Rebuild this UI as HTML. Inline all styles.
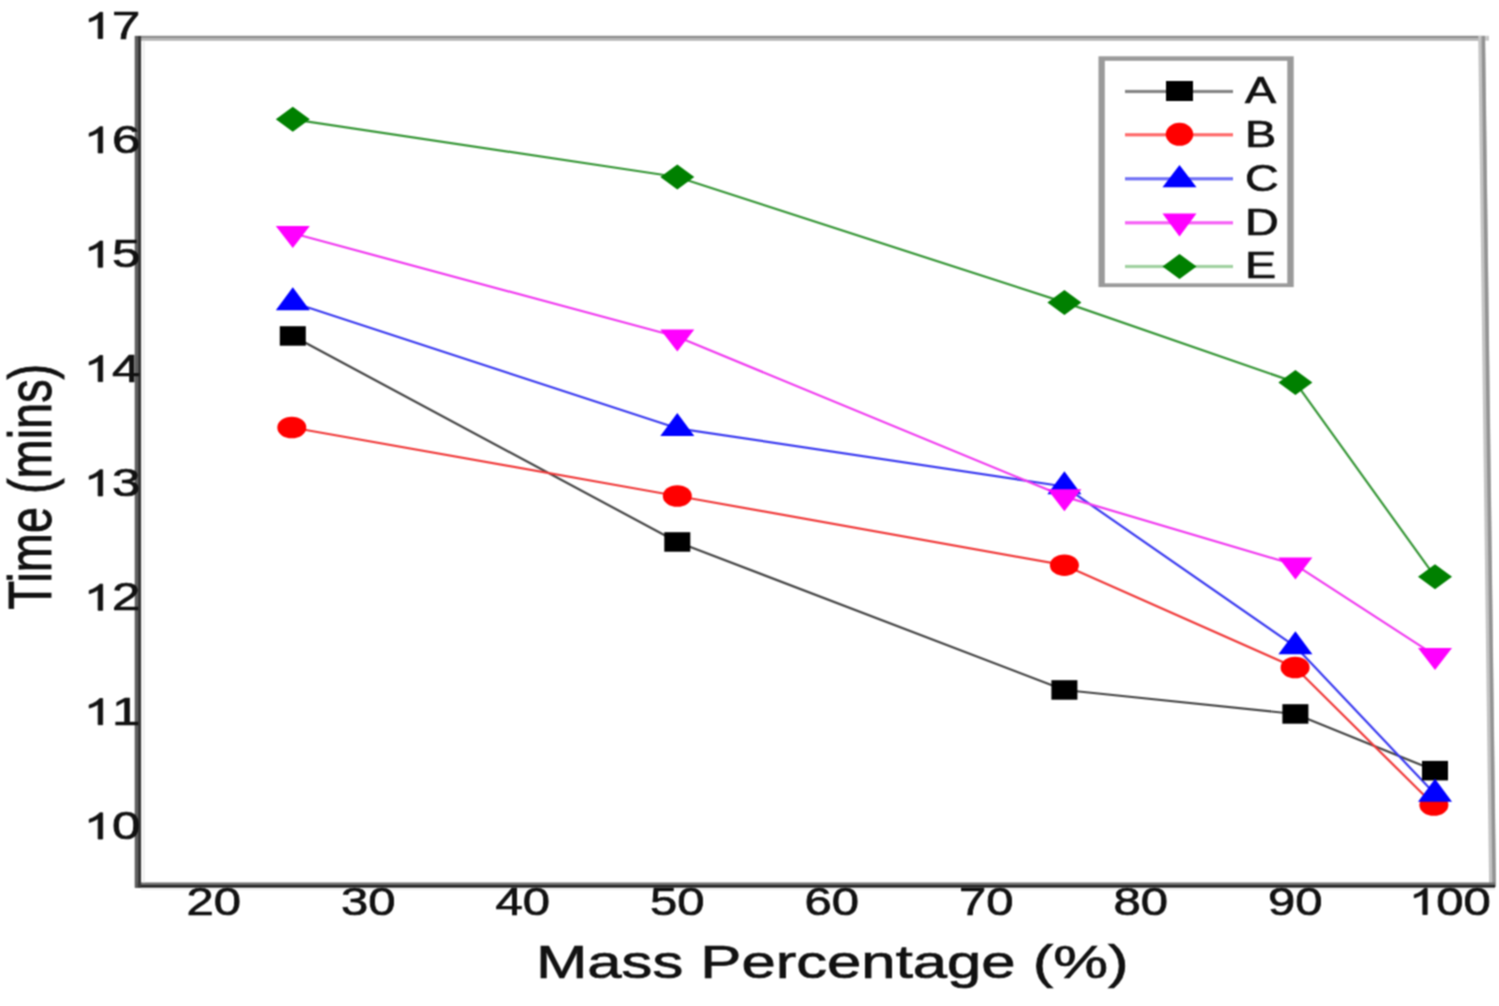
<!DOCTYPE html>
<html><head><meta charset="utf-8"><style>
html,body{margin:0;padding:0;background:#fff;}
svg{display:block;}
text{font-family:"Liberation Sans", sans-serif;fill:#111;stroke:#111;stroke-width:0.7px;}
path.g1{fill:#111;stroke:#111;stroke-width:0.7px;}
</style></head><body>
<svg width="1499" height="1006" viewBox="0 0 1499 1006">
<defs><filter id="bl" color-interpolation-filters="sRGB" x="0" y="0" width="1499" height="1006" filterUnits="userSpaceOnUse"><feConvolveMatrix order="3" kernelMatrix="1 2 1 2 4 2 1 2 1" divisor="16" edgeMode="duplicate"/></filter></defs>
<g filter="url(#bl)">
<rect width="1499" height="1006" fill="#fff"/>
<rect x="135" y="35.8" width="1350" height="2.4" fill="#8c8c8c"/>
<rect x="135" y="38.2" width="1350" height="2.5" fill="#b0b0b0"/>
<rect x="1485" y="35.8" width="4" height="4.9" fill="#c8c8c8"/>
<polygon points="1478.2,36 1485.2,36 1496.1,887 1489.1,887" fill="#c4c4c4"/>
<polygon points="1481.5,36 1485.0,36 1495.9,887 1492.4,887" fill="#939393"/>
<rect x="135" y="882.5" width="1360" height="2.6" fill="#6c6c6c"/>
<rect x="135" y="885.1" width="1360" height="2.5" fill="#1a1a1a"/>
<rect x="141" y="888.6" width="1354" height="1.4" fill="#ececec"/>
<rect x="134.7" y="36" width="3.2" height="851.6" fill="#5e5e5e"/>
<rect x="137.9" y="36" width="3.2" height="851.6" fill="#383838"/>
<rect x="143.1" y="40.7" width="1.6" height="841.8" fill="#ececec"/>
<polyline points="292.8,336.0 677.3,542.0 1064.4,690.0 1295.4,714.0 1435.0,770.6" fill="none" stroke="#454545" stroke-width="2.2" stroke-linejoin="round"/>
<polyline points="291.8,427.5 677.3,496.0 1064.4,565.2 1295.1,667.5 1433.9,805.0" fill="none" stroke="#f03a3a" stroke-width="2.2" stroke-linejoin="round"/>
<polyline points="292.8,302.5 677.3,428.3 1064.4,486.5 1295.4,646.6 1435.0,794.1" fill="none" stroke="#3a3af0" stroke-width="2.2" stroke-linejoin="round"/>
<polyline points="292.8,233.3 677.3,336.8 1064.4,496.6 1295.4,564.9 1435.0,655.3" fill="none" stroke="#f03af0" stroke-width="2.2" stroke-linejoin="round"/>
<polyline points="292.8,119.3 677.3,177.0 1064.4,302.4 1295.4,382.4 1435.0,576.7" fill="none" stroke="#369636" stroke-width="2.2" stroke-linejoin="round"/>
<rect x="279.8" y="326.2" width="26" height="19.5" fill="#000"/>
<rect x="664.3" y="532.2" width="26" height="19.5" fill="#000"/>
<rect x="1051.4" y="680.2" width="26" height="19.5" fill="#000"/>
<rect x="1282.4" y="704.2" width="26" height="19.5" fill="#000"/>
<rect x="1422.0" y="760.9" width="26" height="19.5" fill="#000"/>
<ellipse cx="291.8" cy="427.5" rx="14.5" ry="10.8" fill="#f00"/>
<ellipse cx="677.3" cy="496.0" rx="14.5" ry="10.8" fill="#f00"/>
<ellipse cx="1064.4" cy="565.2" rx="14.5" ry="10.8" fill="#f00"/>
<ellipse cx="1295.1" cy="667.5" rx="14.5" ry="10.8" fill="#f00"/>
<ellipse cx="1433.9" cy="805.0" rx="14.5" ry="10.8" fill="#f00"/>
<polygon points="292.8,287.2 309.8,310.2 275.8,310.2" fill="#00f"/>
<polygon points="677.3,413.0 694.3,436.0 660.3,436.0" fill="#00f"/>
<polygon points="1064.4,471.2 1081.4,494.2 1047.4,494.2" fill="#00f"/>
<polygon points="1295.4,631.3 1312.4,654.3 1278.4,654.3" fill="#00f"/>
<polygon points="1435.0,778.8 1452.0,801.8 1418.0,801.8" fill="#00f"/>
<polygon points="275.8,226.0 309.8,226.0 292.8,248.0" fill="#f0f"/>
<polygon points="660.3,329.5 694.3,329.5 677.3,351.5" fill="#f0f"/>
<polygon points="1047.4,489.3 1081.4,489.3 1064.4,511.3" fill="#f0f"/>
<polygon points="1278.4,557.6 1312.4,557.6 1295.4,579.6" fill="#f0f"/>
<polygon points="1418.0,648.0 1452.0,648.0 1435.0,670.0" fill="#f0f"/>
<polygon points="292.8,106.8 309.8,119.3 292.8,131.8 275.8,119.3" fill="#008000"/>
<polygon points="677.3,164.5 694.3,177.0 677.3,189.5 660.3,177.0" fill="#008000"/>
<polygon points="1064.4,289.9 1081.4,302.4 1064.4,314.9 1047.4,302.4" fill="#008000"/>
<polygon points="1295.4,369.9 1312.4,382.4 1295.4,394.9 1278.4,382.4" fill="#008000"/>
<polygon points="1435.0,564.2 1452.0,576.7 1435.0,589.2 1418.0,576.7" fill="#008000"/>
<g transform="translate(140.3,38.5) scale(1.34,1)"><text font-size="38" text-anchor="end"><tspan style="fill:none;stroke:none">1</tspan>7</text><path class="g1" d="M0.3726,0L0.2847,0L0.2847,-0.5383Q0.2529,-0.5091 0.2026,-0.4808Q0.1523,-0.4523 0.1089,-0.4369L0.1089,-0.5186Q0.1826,-0.5518 0.2368,-0.5983Q0.291,-0.6447 0.3149,-0.688L0.3726,-0.688Z" transform="translate(-42.27,0) scale(38)" style="stroke-width:0.0184px"/></g>
<g transform="translate(140.3,152.9) scale(1.34,1)"><text font-size="38" text-anchor="end"><tspan style="fill:none;stroke:none">1</tspan>6</text><path class="g1" d="M0.3726,0L0.2847,0L0.2847,-0.5383Q0.2529,-0.5091 0.2026,-0.4808Q0.1523,-0.4523 0.1089,-0.4369L0.1089,-0.5186Q0.1826,-0.5518 0.2368,-0.5983Q0.291,-0.6447 0.3149,-0.688L0.3726,-0.688Z" transform="translate(-42.27,0) scale(38)" style="stroke-width:0.0184px"/></g>
<g transform="translate(140.3,267.2) scale(1.34,1)"><text font-size="38" text-anchor="end"><tspan style="fill:none;stroke:none">1</tspan>5</text><path class="g1" d="M0.3726,0L0.2847,0L0.2847,-0.5383Q0.2529,-0.5091 0.2026,-0.4808Q0.1523,-0.4523 0.1089,-0.4369L0.1089,-0.5186Q0.1826,-0.5518 0.2368,-0.5983Q0.291,-0.6447 0.3149,-0.688L0.3726,-0.688Z" transform="translate(-42.27,0) scale(38)" style="stroke-width:0.0184px"/></g>
<g transform="translate(140.3,381.6) scale(1.34,1)"><text font-size="38" text-anchor="end"><tspan style="fill:none;stroke:none">1</tspan>4</text><path class="g1" d="M0.3726,0L0.2847,0L0.2847,-0.5383Q0.2529,-0.5091 0.2026,-0.4808Q0.1523,-0.4523 0.1089,-0.4369L0.1089,-0.5186Q0.1826,-0.5518 0.2368,-0.5983Q0.291,-0.6447 0.3149,-0.688L0.3726,-0.688Z" transform="translate(-42.27,0) scale(38)" style="stroke-width:0.0184px"/></g>
<g transform="translate(140.3,495.9) scale(1.34,1)"><text font-size="38" text-anchor="end"><tspan style="fill:none;stroke:none">1</tspan>3</text><path class="g1" d="M0.3726,0L0.2847,0L0.2847,-0.5383Q0.2529,-0.5091 0.2026,-0.4808Q0.1523,-0.4523 0.1089,-0.4369L0.1089,-0.5186Q0.1826,-0.5518 0.2368,-0.5983Q0.291,-0.6447 0.3149,-0.688L0.3726,-0.688Z" transform="translate(-42.27,0) scale(38)" style="stroke-width:0.0184px"/></g>
<g transform="translate(140.3,610.3) scale(1.34,1)"><text font-size="38" text-anchor="end"><tspan style="fill:none;stroke:none">1</tspan>2</text><path class="g1" d="M0.3726,0L0.2847,0L0.2847,-0.5383Q0.2529,-0.5091 0.2026,-0.4808Q0.1523,-0.4523 0.1089,-0.4369L0.1089,-0.5186Q0.1826,-0.5518 0.2368,-0.5983Q0.291,-0.6447 0.3149,-0.688L0.3726,-0.688Z" transform="translate(-42.27,0) scale(38)" style="stroke-width:0.0184px"/></g>
<g transform="translate(140.3,724.7) scale(1.34,1)"><text font-size="38" text-anchor="end"><tspan style="fill:none;stroke:none">1</tspan>1</text><path class="g1" d="M0.3726,0L0.2847,0L0.2847,-0.5383Q0.2529,-0.5091 0.2026,-0.4808Q0.1523,-0.4523 0.1089,-0.4369L0.1089,-0.5186Q0.1826,-0.5518 0.2368,-0.5983Q0.291,-0.6447 0.3149,-0.688L0.3726,-0.688Z" transform="translate(-42.27,0) scale(38)" style="stroke-width:0.0184px"/></g>
<g transform="translate(140.3,839.0) scale(1.34,1)"><text font-size="38" text-anchor="end"><tspan style="fill:none;stroke:none">1</tspan>0</text><path class="g1" d="M0.3726,0L0.2847,0L0.2847,-0.5383Q0.2529,-0.5091 0.2026,-0.4808Q0.1523,-0.4523 0.1089,-0.4369L0.1089,-0.5186Q0.1826,-0.5518 0.2368,-0.5983Q0.291,-0.6447 0.3149,-0.688L0.3726,-0.688Z" transform="translate(-42.27,0) scale(38)" style="stroke-width:0.0184px"/></g>
<g transform="translate(213.8,914.5) scale(1.29,1)"><text font-size="38" text-anchor="middle">20</text></g>
<g transform="translate(368.3,914.5) scale(1.29,1)"><text font-size="38" text-anchor="middle">30</text></g>
<g transform="translate(522.8,914.5) scale(1.29,1)"><text font-size="38" text-anchor="middle">40</text></g>
<g transform="translate(677.3,914.5) scale(1.29,1)"><text font-size="38" text-anchor="middle">50</text></g>
<g transform="translate(831.8,914.5) scale(1.29,1)"><text font-size="38" text-anchor="middle">60</text></g>
<g transform="translate(986.3,914.5) scale(1.29,1)"><text font-size="38" text-anchor="middle">70</text></g>
<g transform="translate(1140.8,914.5) scale(1.29,1)"><text font-size="38" text-anchor="middle">80</text></g>
<g transform="translate(1295.3,914.5) scale(1.29,1)"><text font-size="38" text-anchor="middle">90</text></g>
<g transform="translate(1449.8,914.5) scale(1.29,1)"><text font-size="38" text-anchor="middle"><tspan style="fill:none;stroke:none">1</tspan>00</text><path class="g1" d="M0.3726,0L0.2847,0L0.2847,-0.5383Q0.2529,-0.5091 0.2026,-0.4808Q0.1523,-0.4523 0.1089,-0.4369L0.1089,-0.5186Q0.1826,-0.5518 0.2368,-0.5983Q0.291,-0.6447 0.3149,-0.688L0.3726,-0.688Z" transform="translate(-31.70,0) scale(38)" style="stroke-width:0.0184px"/></g>
<text transform="translate(536,978) scale(1.34,1)" font-size="46" text-anchor="start">Mass Percentage (%)</text>
<text transform="translate(51,609.5) rotate(-90) scale(1,1.314)" font-size="46.9">Time (mins)</text>
<rect x="1098.5" y="56.3" width="195.2" height="230.8" fill="#9a9a9a"/>
<rect x="1104.8" y="60.8" width="182.5" height="222.5" fill="#fff"/>
<rect x="1125" y="89.9" width="108" height="3.2" fill="#858585"/>
<rect x="1125" y="133.20000000000002" width="108" height="3.2" fill="#ff6a6a"/>
<rect x="1125" y="177.20000000000002" width="108" height="3.2" fill="#7070f4"/>
<rect x="1125" y="221.20000000000002" width="108" height="3.2" fill="#f660f6"/>
<rect x="1125" y="264.9" width="108" height="3.2" fill="#a2d2a2"/>
<rect x="1166.0" y="81.0" width="27" height="20" fill="#000"/>
<ellipse cx="1179.5" cy="134.3" rx="13.75" ry="11.5" fill="#f00"/>
<polygon points="1179.5,165.0 1196.5,187.3 1162.5,187.3" fill="#00f"/>
<polygon points="1162.5,213.4 1196.5,213.4 1179.5,236.5" fill="#f0f"/>
<polygon points="1179.5,253.9 1196.5,266.4 1179.5,278.9 1162.5,266.4" fill="#008000"/>
<text transform="translate(1245,103.0) scale(1.28,1)" font-size="36.5" text-anchor="start">A</text>
<text transform="translate(1245,146.6) scale(1.28,1)" font-size="36.5" text-anchor="start">B</text>
<text transform="translate(1245,191.4) scale(1.28,1)" font-size="36.5" text-anchor="start">C</text>
<text transform="translate(1245,235.0) scale(1.28,1)" font-size="36.5" text-anchor="start">D</text>
<text transform="translate(1245,278.4) scale(1.28,1)" font-size="36.5" text-anchor="start">E</text>
</g></svg></body></html>
